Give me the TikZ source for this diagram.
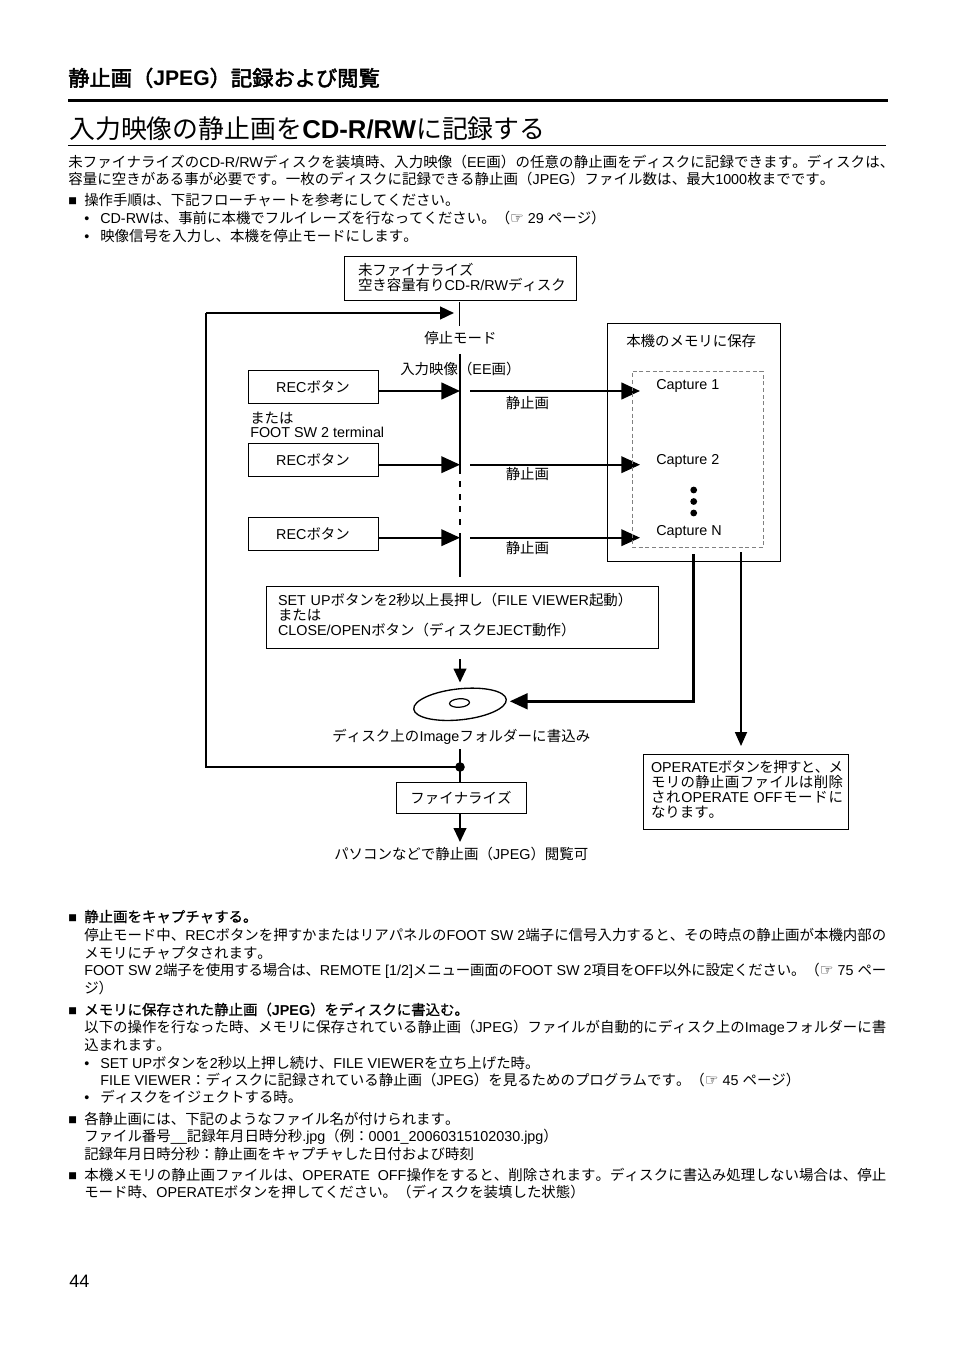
\documentclass[tikz,border=0pt]{standalone}
\usepackage{fontspec}
\usetikzlibrary{arrows.meta,shapes.geometric,positioning}
\setmainfont{Liberation Sans}
\newfontfamily\cjkfont[Scale=1.006,BoldFont={Noto Sans CJK JP},BoldFeatures={FakeBold=0.8}]{Noto Sans CJK JP}
\newfontfamily\headfont[Scale=1.006,BoldFont={Noto Sans CJK JP},BoldFeatures={FakeBold=2.5}]{Noto Sans CJK JP}
\newfontfamily\handfont{DejaVu Sans}
% switch to the CJK font by character class
\newXeTeXintercharclass\cjkclass
\newcount\cjkcnt
\newcommand{\cjkrange}[2]{\cjkcnt=#1 \loop\XeTeXcharclass\cjkcnt=\cjkclass \ifnum\cjkcnt<#2 \advance\cjkcnt by 1 \repeat}
\cjkrange{"3000}{"30FF}
\cjkrange{"3400}{"9FFF}
\cjkrange{"FF00}{"FFEF}
\XeTeXinterchartoks 0 \cjkclass={\hskip 0pt plus 1fil minus 1fil\relax\begingroup\cjkfont}
\XeTeXinterchartoks 4095 \cjkclass={\begingroup\cjkfont}
\XeTeXinterchartoks \cjkclass 0={\endgroup\hskip 0pt plus 1fil minus 1fil\relax}
\XeTeXinterchartoks \cjkclass 4095={\endgroup}
\XeTeXinterchartoks \cjkclass \cjkclass={\hskip 0pt plus 1fil minus 1fil\relax}
\XeTeXinterchartokenstate=1
\newcommand{\fb}{\fontsize{10.76}{11.25}\selectfont}
\newcommand{\hand}{{\handfont\fontsize{11.5}{11}\selectfont ☞}}
\newcommand{\fitline}[2]{\leavevmode\hbox to #1{#2}}
\newcommand{\oneline}[1]{\leavevmode\hbox{#1}}
\newcommand{\lift}[1]{\par\nointerlineskip\hrule height #1 width 0pt}
\tikzset{
  txt/.style={anchor=base west, inner sep=0pt},
  boxn/.style={draw, line width=0.7pt, inner sep=0pt, align=center},
  boxl/.style={draw, line width=0.7pt, inner ysep=0pt, align=left},
  bigarr/.style={-{Triangle[length=14pt,width=12.5pt]}},
  midarr/.style={-{Triangle[length=10.5pt,width=9.5pt]}}
}
\begin{document}
\begin{tikzpicture}[x=0.75pt,y=-0.75pt,every node/.style={font=\fb}]
  \def\px{0.75pt}
  \useasboundingbox (0,0) rectangle (954,1351);
  % Page heading
  \node[txt,font=\fontsize{15.85}{18}\selectfont\bfseries\let\cjkfont\headfont] (head) at (68,86) {静止画（JPEG）記録および閲覧};
  \draw[line width=2.4pt] (68,100.5) -- (888,100.5);
  \node[txt,font=\fontsize{19.3}{22}\selectfont] (title) at (69,139) {入力映像の静止画を\textbf{CD-R/RW}に記録する};
  \draw[line width=0.6pt] (68,145.5) -- (886,145.5);

  % Intro text
  \node[txt] (in1) at (68,167.5) {\fitline{619.5pt}{未ファイナライズのCD-R/RWディスクを装填時、入力映像（EE画）の任意の静止画をディスクに記録できます。ディスクは、}};
  \node[txt] (in2) at (68,185) {\fitline{574.5pt}{容量に空きがある事が必要です。一枚のディスクに記録できる静止画（JPEG）ファイル数は、最大1000枚までです。}};
  \node[txt] (in3) at (68,205.5) {■};
  \node[txt] (in4) at (84,205.5) {操作手順は、下記フローチャートを参考にしてください。};
  \node[txt] (in5) at (84,223.5) {•};
  \node[txt] (in6) at (100,223.5) {CD-RWは、事前に本機でフルイレーズを行なってください。（\hand\ 29 ページ）};
  \node[txt] (in7) at (84,241.5) {•};
  \node[txt] (in8) at (100,241.5) {映像信号を入力し、本機を停止モードにします。};

  % Flow chart: boxes
  \node[boxl,text width=204*\px,inner xsep=14*\px,minimum height=44*\px] (disk) at (460,278.5) {\oneline{未ファイナライズ}\\\oneline{空き容量有りCD-R/RWディスク}\lift{1.5pt}};
  \node[txt] (stop) at (424,344) {停止モード};
  \node[txt] (inp) at (400,374) {入力映像（EE画）};
  \draw[line width=0.6pt] (459.5,302) -- (459.5,326);
  \draw[line width=1.8pt] (460,354) -- (460,474);
  \foreach \yy in {481,494,506,519} {
    \draw[line width=1.8pt] (460,\yy) -- (460,\yy+5.5);
  }
  \draw[line width=1.1pt] (460,533) -- (460,577);

  % REC buttons with their arrows
  \foreach \i/\yb/\ya/\ys/\lw in {1/387/391/408.5/1.8pt,2/460.4/464.7/479.5/1.2pt,3/534/537.7/553/1.2pt} {
    \node[boxn,minimum width=130*\px,minimum height=33*\px] (rec\i) at (313,\yb) {RECボタン};
    \coordinate (hit\i) at (460,\ya);
    \coordinate (out\i) at (470,\ya);
    \coordinate (cap\i) at (640,\ya);
    \draw[bigarr,line width=\lw] (rec\i.east |- hit\i) -- (hit\i);
    \draw[bigarr,line width=\lw] (out\i) -- (cap\i);
    \node[txt] (still\i) at (505.5,\ys) {静止画};
  }
  \node[txt] (orr) at (250,423) {または};
  \node[txt] (foot) at (250,437) {FOOT SW 2 terminal};

  % Memory box
  \node[draw,line width=0.7pt,inner sep=0pt,minimum width=173*\px,minimum height=238*\px] (mem) at (693.5,442.5) {};
  \node[txt] (memt) at (626,346.5) {本機のメモリに保存};
  \node[draw,gray,densely dashed,line width=0.45pt,inner sep=0pt,minimum width=131*\px,minimum height=176*\px] (dash) at (697.5,459.5) {};
  \node[txt] (c1) at (656,389) {Capture 1};
  \node[txt] (c2) at (656,464) {Capture 2};
  \node[txt] (cn) at (656,535) {Capture N};
  \foreach \yy in {490,501.5,513} {
    \fill (693.7,\yy) circle (3.4);
  }

  % Set up box, disc
  \node[boxl,text width=368*\px,inner xsep=12*\px,minimum height=62*\px] (setb) at (462,617.5) {\oneline{SET UPボタンを2秒以上長押し（FILE VIEWER起動）}\\\oneline{または}\\\oneline{CLOSE/OPENボタン（ディスクEJECT動作）}\lift{3pt}};
  \coordinate (setout) at (460,659);
  \coordinate (setin) at (460,682.5);
  \draw[midarr,line width=1.5pt] (setout) -- (setin);
  \node[ellipse,draw,line width=1pt,inner sep=0pt,minimum width=93*\px,minimum height=31*\px,rotate=6] (disc) at (460,704.3) {};
  \node[ellipse,draw,line width=0.9pt,inner sep=0pt,minimum width=20*\px,minimum height=8.5*\px,rotate=4] (hole) at (459.5,703) {};
  \node[txt] (wrt) at (332,741) {\fitline{193.5pt}{ディスク上のImageフォルダーに書込み}};

  % Arrows leaving the memory box
  \coordinate (mem1) at (693.6,554);
  \coordinate (mem2) at (741,552);
  \coordinate (dsk) at (509.6,701.3);
  \coordinate (opin) at (741,746);
  \draw[-{Triangle[length=13.5pt,width=11.5pt]},line width=2.7pt] (mem1) |- (dsk);
  \draw[-{Triangle[length=10.5pt,width=9pt]},line width=1.3pt] (mem2) -- (opin);
  \node[boxl,text width=189*\px,inner xsep=8*\px,minimum height=75*\px] (oper) at (745.5,792) {\fitline{144pt}{OPERATEボタンを押すと、メ}\\\fitline{144pt}{モリの静止画ファイルは削除}\\\fitline{144pt}{されOPERATE OFFモードに}\\\oneline{なります。}\lift{4.5pt}};

  % Finalise and loop back
  \node[boxn,minimum width=130*\px,minimum height=31*\px] (fin) at (461,797.8) {ファイナライズ};
  \coordinate (wrout) at (460,749);
  \coordinate (junc) at (460,767);
  \coordinate (back) at (454,313);
  \coordinate (finend) at (460,842);
  \draw[line width=1.3pt] (wrout) -- (wrout |- fin.north);
  \fill (junc) circle (4.8);
  \draw[line width=0.8pt] (junc) -- (206,767) -- (206,313);
  \draw[midarr,line width=1.8pt] (206,313) -- (back);
  \draw[midarr,line width=1.5pt] (finend |- fin.south) -- (finend);
  \node[txt] (pc) at (334,859) {\fitline{190.5pt}{パソコンなどで静止画（JPEG）閲覧可}};

  % Notes below the chart
  \node[txt] (n1) at (68,922) {■};
  \node[txt] (n2) at (84,922) {\bfseries 静止画をキャプチャする。};
  \node[txt] (n3) at (84,940) {\fitline{601.5pt}{停止モード中、RECボタンを押すかまたはリアパネルのFOOT SW 2端子に信号入力すると、その時点の静止画が本機内部の}};
  \node[txt] (n4) at (84,958) {メモリにチャプタされます。};
  \node[txt] (n5) at (84,975) {\fitline{601.5pt}{FOOT SW 2端子を使用する場合は、REMOTE [1/2]メニュー画面のFOOT SW 2項目をOFF以外に設定ください。（\hand\ 75 ペー}};
  \node[txt] (n6) at (84,993) {ジ）};
  \node[txt] (n7) at (68,1015) {■};
  \node[txt] (n8) at (84,1015) {\bfseries メモリに保存された静止画（JPEG）をディスクに書込む。};
  \node[txt] (n9) at (84,1032) {\fitline{601.5pt}{以下の操作を行なった時、メモリに保存されている静止画（JPEG）ファイルが自動的にディスク上のImageフォルダーに書}};
  \node[txt] (n10) at (84,1050) {込まれます。};
  \node[txt] (n11) at (84,1068) {•};
  \node[txt] (n12) at (100,1068) {SET UPボタンを2秒以上押し続け、FILE VIEWERを立ち上げた時。};
  \node[txt] (n13) at (100,1085) {FILE VIEWER：ディスクに記録されている静止画（JPEG）を見るためのプログラムです。（\hand\ 45 ページ）};
  \node[txt] (n14) at (84,1102) {•};
  \node[txt] (n15) at (100,1102) {ディスクをイジェクトする時。};
  \node[txt] (n16) at (68,1124) {■};
  \node[txt] (n17) at (84,1124) {各静止画には、下記のようなファイル名が付けられます。};
  \node[txt] (n18) at (84,1141) {ファイル番号\_\_記録年月日時分秒.jpg（例：0001\_20060315102030.jpg）};
  \node[txt] (n19) at (84,1159) {記録年月日時分秒：静止画をキャプチャした日付および時刻};
  \node[txt] (n20) at (68,1180) {■};
  \node[txt] (n21) at (84,1180) {\fitline{601.5pt}{本機メモリの静止画ファイルは、OPERATE\ \ OFF操作をすると、削除されます。ディスクに書込み処理しない場合は、停止}};
  \node[txt] (n22) at (84,1197) {モード時、OPERATEボタンを押してください。（ディスクを装填した状態）};

  % Page number
  \node[txt,font=\fontsize{13.5}{16}\selectfont] (page) at (69,1287) {44};
\end{tikzpicture}
\end{document}
